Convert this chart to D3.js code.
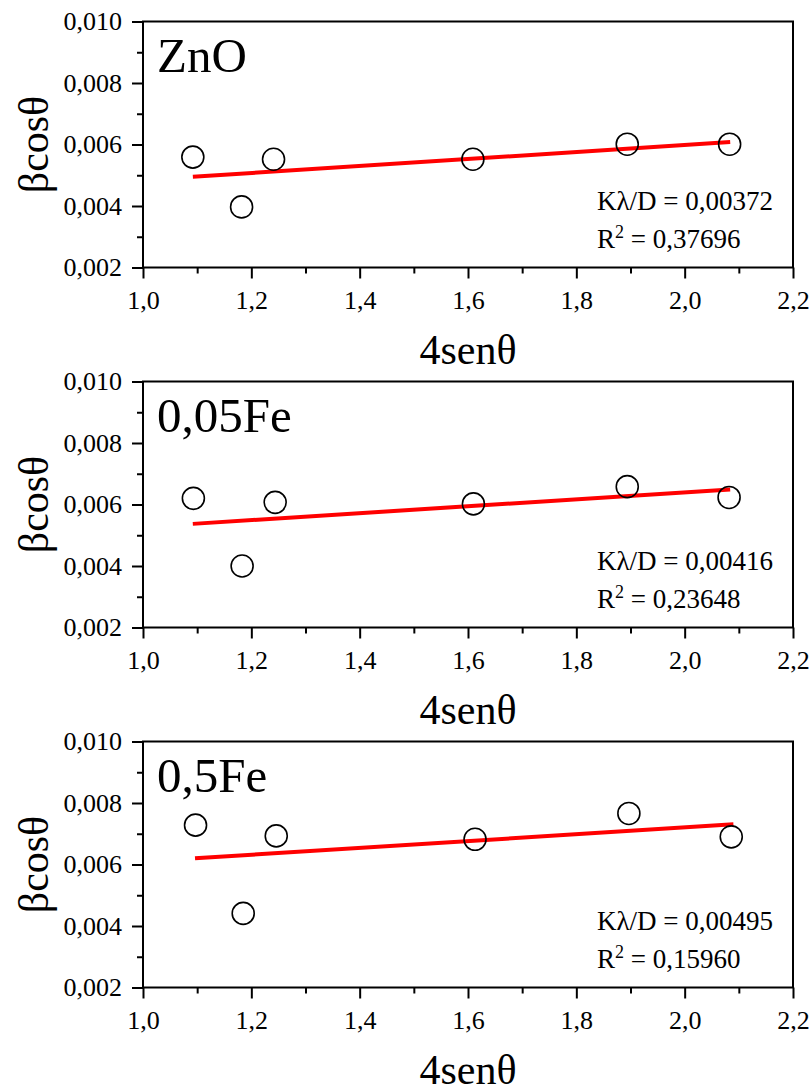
<!DOCTYPE html>
<html>
<head>
<meta charset="utf-8">
<script src="https://cdn.jsdelivr.net/npm/d3@7"></script>
<style>
  body { margin: 0; background: #fff; }
  svg text { font-family: "Liberation Serif", "Times New Roman", serif; fill: #000; }
</style>
</head>
<body>
<script>
// values
const panelNames = ["ZnO", "0,05Fe", "0,5Fe"];

const sinZnO = [1.092, 1.182, 1.241, 1.609, 1.894, 2.083];
const betaZnO = [0.00559, 0.00397, 0.00552, 0.00552, 0.00601, 0.00601];

const sinFe005 = [1.093, 1.183, 1.244, 1.610, 1.894, 2.082];
const betaFe005 = [0.0062, 0.004, 0.00607, 0.00602, 0.00658, 0.00623];

const sinFe05 = [1.097, 1.185, 1.246, 1.613, 1.897, 2.086];
const betaFe05 = [0.00728, 0.00441, 0.00693, 0.00682, 0.00766, 0.0069];

// fitted line end points
const fitXZnO = [1.092, 2.084];
const fitYZnO = [0.00495, 0.00608];
const fitXFe005 = [1.092, 2.084];
const fitYFe005 = [0.00537, 0.00649];
const fitXFe05 = [1.096, 2.09];
const fitYFe05 = [0.0062, 0.00731];

const klD = ["0,00372", "0,00416", "0,00495"];
const rSquared = ["0,37696", "0,23648", "0,15960"];

const xTicks = [1.0, 1.2, 1.4, 1.6, 1.8, 2.0, 2.2];
const xMinor = [1.1, 1.3, 1.5, 1.7, 1.9, 2.1];
const yTicks = [0.002, 0.004, 0.006, 0.008, 0.010];
const yMinor = [0.003, 0.005, 0.007, 0.009];

const panels = [
  { name: panelNames[0], xs: sinZnO, ys: betaZnO, fx: fitXZnO, fy: fitYZnO, k: klD[0], r2: rSquared[0] },
  { name: panelNames[1], xs: sinFe005, ys: betaFe005, fx: fitXFe005, fy: fitYFe005, k: klD[1], r2: rSquared[1] },
  { name: panelNames[2], xs: sinFe05, ys: betaFe05, fx: fitXFe05, fy: fitYFe05, k: klD[2], r2: rSquared[2] },
];

const width = 810;
const height = 1091;
const left = 143;
const right = 793;
const plotH = 246;
const tops = [21.5, 381.5, 741.5];
const serif = '"Liberation Serif", "Times New Roman", serif';

const fmtX = (d) => d3.format(".1f")(d).replace(".", ",");
const fmtY = (d) => d3.format(".3f")(d).replace(".", ",");

const svg = d3
  .select("body")
  .append("svg")
  .attr("width", width)
  .attr("height", height);

svg.append("rect").attr("width", width).attr("height", height).attr("fill", "#fff");

const xScale = d3.scaleLinear().domain([1.0, 2.2]).range([left, right]);

panels.forEach((p, i) => {
  const top = tops[i];
  const bottom = top + plotH;
  const yScale = d3.scaleLinear().domain([0.002, 0.01]).range([bottom, top]);

  const g = svg.append("g");

  // minor ticks
  g.append("g")
    .attr("transform", `translate(${left},0)`)
    .call(d3.axisLeft(yScale).tickValues(yMinor).tickSize(6).tickFormat(""))
    .call((a) => a.select(".domain").remove())
    .selectAll("line").attr("stroke-width", 2);

  g.append("g")
    .attr("transform", `translate(0,${bottom})`)
    .call(d3.axisBottom(xScale).tickValues(xMinor).tickSize(6).tickFormat(""))
    .call((a) => a.select(".domain").remove())
    .selectAll("line").attr("stroke-width", 2);

  // major ticks + labels
  const yAxis = g
    .append("g")
    .attr("transform", `translate(${left},0)`)
    .call(d3.axisLeft(yScale).tickValues(yTicks).tickSize(11).tickPadding(10).tickFormat(fmtY))
    .attr("font-family", serif)
    .attr("font-size", 26);
  yAxis.select(".domain").remove();
  yAxis.selectAll("line").attr("stroke-width", 2);

  const xAxis = g
    .append("g")
    .attr("transform", `translate(0,${bottom})`)
    .call(d3.axisBottom(xScale).tickValues(xTicks).tickSize(11).tickPadding(12).tickFormat(fmtX))
    .attr("font-family", serif)
    .attr("font-size", 26);
  xAxis.select(".domain").remove();
  xAxis.selectAll("line").attr("stroke-width", 2);

  // frame
  g.append("rect")
    .attr("x", left)
    .attr("y", top)
    .attr("width", right - left)
    .attr("height", plotH)
    .attr("fill", "none")
    .attr("stroke", "#000")
    .attr("stroke-width", 2);

  // fit line
  g.append("line")
    .attr("x1", xScale(p.fx[0]))
    .attr("y1", yScale(p.fy[0]))
    .attr("x2", xScale(p.fx[1]))
    .attr("y2", yScale(p.fy[1]))
    .attr("stroke", "#ff0000")
    .attr("stroke-width", 4);

  // points
  g.selectAll("circle")
    .data(p.xs.map((x, j) => ({ x: x, y: p.ys[j] })))
    .enter()
    .append("circle")
    .attr("cx", (d) => xScale(d.x))
    .attr("cy", (d) => yScale(d.y))
    .attr("r", 11)
    .attr("fill", "none")
    .attr("stroke", "#000")
    .attr("stroke-width", 1.6);

  // sample name
  g.append("text")
    .attr("x", 157)
    .attr("y", top + 50.5)
    .style("font-size", "49px")
    .text(p.name);

  // fit results
  g.append("text")
    .attr("x", 597)
    .attr("y", top + 188.5)
    .style("font-size", "27px")
    .text(`Kλ/D = ${p.k}`);

  const r2 = g.append("text")
    .attr("x", 597)
    .attr("y", top + 226)
    .style("font-size", "27px");
  r2.append("tspan").text("R");
  r2.append("tspan").attr("dy", -10).style("font-size", "18px").text("2");
  r2.append("tspan").attr("dy", 10).text(` = ${p.r2}`);

  // axis titles
  g.append("text")
    .attr("x", (left + right) / 2)
    .attr("y", bottom + 96)
    .attr("text-anchor", "middle")
    .style("font-size", "42px")
    .text("4senθ");

  g.append("text")
    .attr("transform", `translate(48,${(top + bottom) / 2}) rotate(-90)`)
    .attr("text-anchor", "middle")
    .style("font-size", "42px")
    .text("βcosθ");
});
</script>
</body>
</html>
